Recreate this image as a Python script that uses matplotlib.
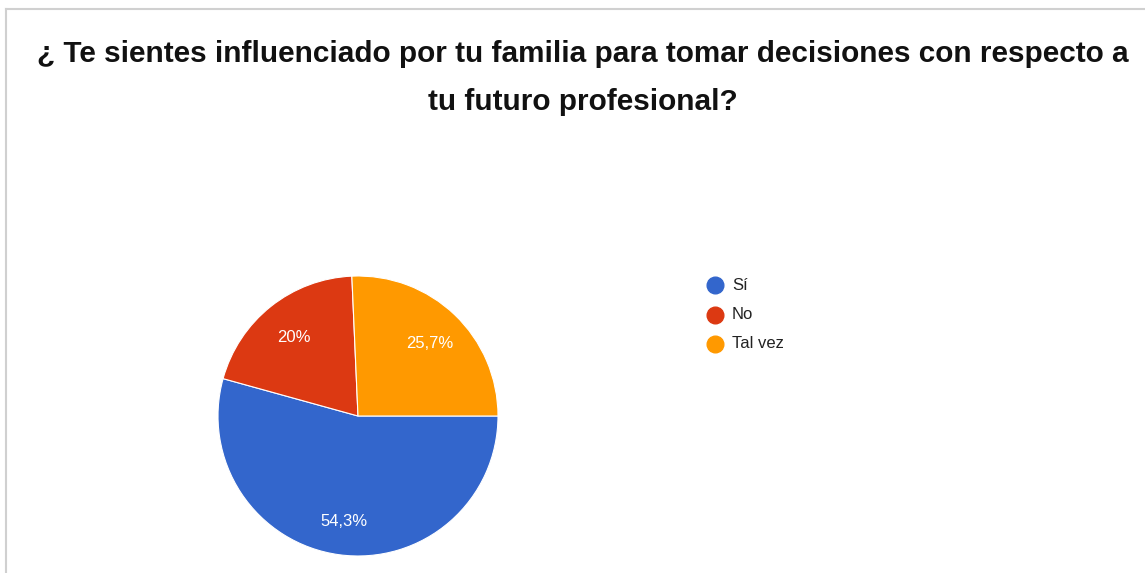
import matplotlib
matplotlib.use('Agg')
import matplotlib.pyplot as plt
import matplotlib.lines as mlines
import numpy as np

# data
labels = ['Sí', 'No', 'Tal vez']
values = [54.3, 20.0, 25.7]
pct_text = ['54,3%', '20%', '25,7%']
colors = ['#3366cc', '#dc3912', '#ff9900']
title = '¿ Te sientes influenciado por tu familia para tomar decisiones con respecto a\ntu futuro profesional?'

W, H = 1145, 573
fig = plt.figure(figsize=(W / 100, H / 100), dpi=100)
fig.patch.set_facecolor('white')

# light frame on top and left
fig.add_artist(mlines.Line2D([6 / W, 1], [1 - 9 / H, 1 - 9 / H], color='#d0d0d0', lw=1.5))
fig.add_artist(mlines.Line2D([6 / W, 6 / W], [0, 1 - 9 / H], color='#d0d0d0', lw=1.5))

fig.text(583 / W, 1 - 78 / H, title, ha='center', va='center', fontsize=21.4,
         fontweight='bold', family=['Liberation Sans Narrow', 'Liberation Sans'],
         color='#111111', linespacing=1.9)

# pie axes
cx, cy, r = 358, 416, 140
ax = fig.add_axes([(cx - r) / W, (H - cy - r) / H, 2 * r / W, 2 * r / H])
wedges, _ = ax.pie(values, colors=colors, startangle=0, counterclock=False,
                   radius=1, wedgeprops=dict(edgecolor='white', linewidth=0.8))
for w, t in zip(wedges, pct_text):
    ang = np.deg2rad((w.theta1 + w.theta2) / 2)
    ax.text(0.74 * np.cos(ang), 0.74 * np.sin(ang) - 0.02, t, ha='center', va='center',
            color='white', fontsize=12, family='Liberation Sans')
ax.set_xlim(-1, 1)
ax.set_ylim(-1, 1)
ax.set_aspect('equal')
ax.axis('off')

# legend
for i, (lab, c) in enumerate(zip(labels, colors)):
    y = 285 + 29.5 * i
    fig.add_artist(mlines.Line2D([715 / W], [1 - y / H], marker='o', markersize=12,
                                 color=c, linestyle='none'))
    fig.text(732 / W, 1 - y / H, lab, ha='left', va='center', fontsize=12,
             family='Liberation Sans', color='#222222')

fig.savefig('out.png', dpi=100)
